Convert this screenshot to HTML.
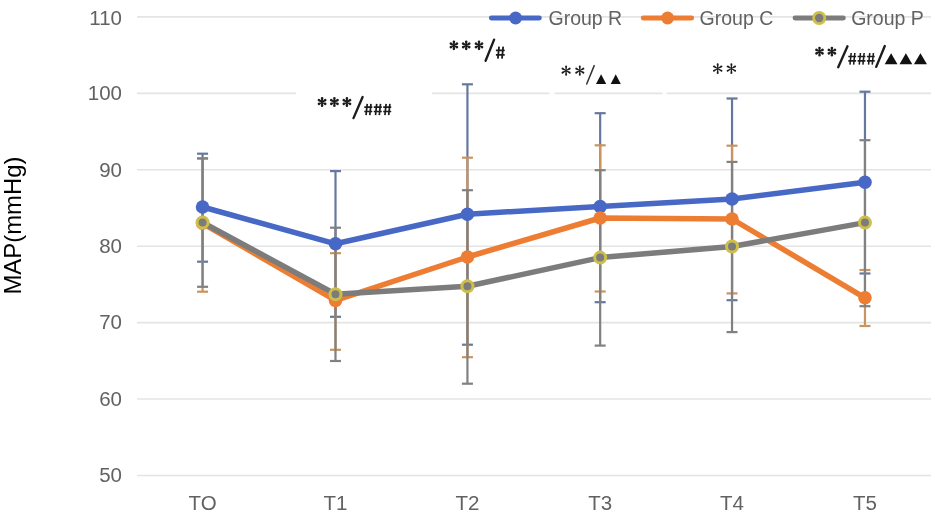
<!DOCTYPE html>
<html><head><meta charset="utf-8"><style>
html,body{margin:0;padding:0;background:#fff;}
body{width:935px;height:517px;overflow:hidden;}
svg{display:block;filter:blur(0.4px);}
.ax{font-family:"Liberation Sans",sans-serif;font-size:20.5px;fill:#626262;}
.leg{font-family:"Liberation Sans",sans-serif;font-size:19.5px;fill:#626262;}
.ttl{font-family:"Liberation Sans",sans-serif;font-size:23.9px;fill:#000;}
</style></head><body>
<svg width="935" height="517" viewBox="0 0 935 517">
<line x1="137" y1="16.90" x2="931" y2="16.90" stroke="#e4e4e4" stroke-width="1.6"/>
<line x1="137" y1="93.33" x2="931" y2="93.33" stroke="#e4e4e4" stroke-width="1.6"/>
<line x1="137" y1="169.76" x2="931" y2="169.76" stroke="#e4e4e4" stroke-width="1.6"/>
<line x1="137" y1="246.19" x2="931" y2="246.19" stroke="#e4e4e4" stroke-width="1.6"/>
<line x1="137" y1="322.62" x2="931" y2="322.62" stroke="#e4e4e4" stroke-width="1.6"/>
<line x1="137" y1="399.05" x2="931" y2="399.05" stroke="#e4e4e4" stroke-width="1.6"/>
<line x1="137" y1="475.48" x2="931" y2="475.48" stroke="#e4e4e4" stroke-width="1.6"/>
<rect x="296" y="88" width="136" height="34" fill="#fff"/>
<rect x="549.5" y="90" width="5" height="8" fill="#fff"/>
<rect x="662.5" y="90" width="4" height="8" fill="#fff"/>
<line x1="202.57" y1="153.70" x2="202.57" y2="261.70" stroke="#66789e" stroke-width="2.2"/>
<line x1="197.07" y1="153.70" x2="208.07" y2="153.70" stroke="#66789e" stroke-width="2.2"/>
<line x1="197.07" y1="261.70" x2="208.07" y2="261.70" stroke="#66789e" stroke-width="2.2"/>
<line x1="335.50" y1="171.10" x2="335.50" y2="316.80" stroke="#66789e" stroke-width="2.2"/>
<line x1="330.00" y1="171.10" x2="341.00" y2="171.10" stroke="#66789e" stroke-width="2.2"/>
<line x1="330.00" y1="316.80" x2="341.00" y2="316.80" stroke="#66789e" stroke-width="2.2"/>
<line x1="467.43" y1="84.30" x2="467.43" y2="344.70" stroke="#66789e" stroke-width="2.2"/>
<line x1="461.93" y1="84.30" x2="472.93" y2="84.30" stroke="#66789e" stroke-width="2.2"/>
<line x1="461.93" y1="344.70" x2="472.93" y2="344.70" stroke="#66789e" stroke-width="2.2"/>
<line x1="600.17" y1="113.20" x2="600.17" y2="302.20" stroke="#66789e" stroke-width="2.2"/>
<line x1="594.67" y1="113.20" x2="605.67" y2="113.20" stroke="#66789e" stroke-width="2.2"/>
<line x1="594.67" y1="302.20" x2="605.67" y2="302.20" stroke="#66789e" stroke-width="2.2"/>
<line x1="732.03" y1="98.50" x2="732.03" y2="300.20" stroke="#66789e" stroke-width="2.2"/>
<line x1="726.53" y1="98.50" x2="737.53" y2="98.50" stroke="#66789e" stroke-width="2.2"/>
<line x1="726.53" y1="300.20" x2="737.53" y2="300.20" stroke="#66789e" stroke-width="2.2"/>
<line x1="864.97" y1="91.70" x2="864.97" y2="273.50" stroke="#66789e" stroke-width="2.2"/>
<line x1="859.47" y1="91.70" x2="870.47" y2="91.70" stroke="#66789e" stroke-width="2.2"/>
<line x1="859.47" y1="273.50" x2="870.47" y2="273.50" stroke="#66789e" stroke-width="2.2"/>
<line x1="202.57" y1="158.60" x2="202.57" y2="291.70" stroke="#c9945f" stroke-width="2.2"/>
<line x1="197.07" y1="158.60" x2="208.07" y2="158.60" stroke="#c9945f" stroke-width="2.2"/>
<line x1="197.07" y1="291.70" x2="208.07" y2="291.70" stroke="#c9945f" stroke-width="2.2"/>
<line x1="335.50" y1="253.20" x2="335.50" y2="349.80" stroke="#c9945f" stroke-width="2.2"/>
<line x1="330.00" y1="253.20" x2="341.00" y2="253.20" stroke="#c9945f" stroke-width="2.2"/>
<line x1="330.00" y1="349.80" x2="341.00" y2="349.80" stroke="#c9945f" stroke-width="2.2"/>
<line x1="467.43" y1="157.70" x2="467.43" y2="357.20" stroke="#c9945f" stroke-width="2.2"/>
<line x1="461.93" y1="157.70" x2="472.93" y2="157.70" stroke="#c9945f" stroke-width="2.2"/>
<line x1="461.93" y1="357.20" x2="472.93" y2="357.20" stroke="#c9945f" stroke-width="2.2"/>
<line x1="600.17" y1="145.30" x2="600.17" y2="291.50" stroke="#c9945f" stroke-width="2.2"/>
<line x1="594.67" y1="145.30" x2="605.67" y2="145.30" stroke="#c9945f" stroke-width="2.2"/>
<line x1="594.67" y1="291.50" x2="605.67" y2="291.50" stroke="#c9945f" stroke-width="2.2"/>
<line x1="732.03" y1="145.70" x2="732.03" y2="293.40" stroke="#c9945f" stroke-width="2.2"/>
<line x1="726.53" y1="145.70" x2="737.53" y2="145.70" stroke="#c9945f" stroke-width="2.2"/>
<line x1="726.53" y1="293.40" x2="737.53" y2="293.40" stroke="#c9945f" stroke-width="2.2"/>
<line x1="864.97" y1="270.00" x2="864.97" y2="326.00" stroke="#c9945f" stroke-width="2.2"/>
<line x1="859.47" y1="270.00" x2="870.47" y2="270.00" stroke="#c9945f" stroke-width="2.2"/>
<line x1="859.47" y1="326.00" x2="870.47" y2="326.00" stroke="#c9945f" stroke-width="2.2"/>
<line x1="202.57" y1="158.30" x2="202.57" y2="286.80" stroke="#818181" stroke-width="2.2"/>
<line x1="197.07" y1="158.30" x2="208.07" y2="158.30" stroke="#818181" stroke-width="2.2"/>
<line x1="197.07" y1="286.80" x2="208.07" y2="286.80" stroke="#818181" stroke-width="2.2"/>
<line x1="335.50" y1="227.70" x2="335.50" y2="361.00" stroke="#818181" stroke-width="2.2"/>
<line x1="330.00" y1="227.70" x2="341.00" y2="227.70" stroke="#818181" stroke-width="2.2"/>
<line x1="330.00" y1="361.00" x2="341.00" y2="361.00" stroke="#818181" stroke-width="2.2"/>
<line x1="467.43" y1="190.20" x2="467.43" y2="383.70" stroke="#818181" stroke-width="2.2"/>
<line x1="461.93" y1="190.20" x2="472.93" y2="190.20" stroke="#818181" stroke-width="2.2"/>
<line x1="461.93" y1="383.70" x2="472.93" y2="383.70" stroke="#818181" stroke-width="2.2"/>
<line x1="600.17" y1="170.20" x2="600.17" y2="345.60" stroke="#818181" stroke-width="2.2"/>
<line x1="594.67" y1="170.20" x2="605.67" y2="170.20" stroke="#818181" stroke-width="2.2"/>
<line x1="594.67" y1="345.60" x2="605.67" y2="345.60" stroke="#818181" stroke-width="2.2"/>
<line x1="732.03" y1="161.90" x2="732.03" y2="332.10" stroke="#818181" stroke-width="2.2"/>
<line x1="726.53" y1="161.90" x2="737.53" y2="161.90" stroke="#818181" stroke-width="2.2"/>
<line x1="726.53" y1="332.10" x2="737.53" y2="332.10" stroke="#818181" stroke-width="2.2"/>
<line x1="864.97" y1="140.20" x2="864.97" y2="306.20" stroke="#818181" stroke-width="2.2"/>
<line x1="859.47" y1="140.20" x2="870.47" y2="140.20" stroke="#818181" stroke-width="2.2"/>
<line x1="859.47" y1="306.20" x2="870.47" y2="306.20" stroke="#818181" stroke-width="2.2"/>
<polyline points="202.57,207.00 335.50,243.80 467.43,214.20 600.17,206.50 732.03,199.00 864.97,182.30" fill="none" stroke="#4868c6" stroke-width="5.5" stroke-linejoin="round" stroke-linecap="round"/>
<circle cx="202.57" cy="207.00" r="6.8" fill="#4868c6" stroke="none" stroke-width="0"/>
<circle cx="335.50" cy="243.80" r="6.8" fill="#4868c6" stroke="none" stroke-width="0"/>
<circle cx="467.43" cy="214.20" r="6.8" fill="#4868c6" stroke="none" stroke-width="0"/>
<circle cx="600.17" cy="206.50" r="6.8" fill="#4868c6" stroke="none" stroke-width="0"/>
<circle cx="732.03" cy="199.00" r="6.8" fill="#4868c6" stroke="none" stroke-width="0"/>
<circle cx="864.97" cy="182.30" r="6.8" fill="#4868c6" stroke="none" stroke-width="0"/>
<polyline points="202.57,223.30 335.50,300.40 467.43,257.00 600.17,218.00 732.03,219.00 864.97,297.80" fill="none" stroke="#ec7d32" stroke-width="5.5" stroke-linejoin="round" stroke-linecap="round"/>
<circle cx="202.57" cy="223.30" r="6.8" fill="#ec7d32" stroke="none" stroke-width="0"/>
<circle cx="335.50" cy="300.40" r="6.8" fill="#ec7d32" stroke="none" stroke-width="0"/>
<circle cx="467.43" cy="257.00" r="6.8" fill="#ec7d32" stroke="none" stroke-width="0"/>
<circle cx="600.17" cy="218.00" r="6.8" fill="#ec7d32" stroke="none" stroke-width="0"/>
<circle cx="732.03" cy="219.00" r="6.8" fill="#ec7d32" stroke="none" stroke-width="0"/>
<circle cx="864.97" cy="297.80" r="6.8" fill="#ec7d32" stroke="none" stroke-width="0"/>
<polyline points="202.57,222.50 335.50,294.20 467.43,286.30 600.17,257.60 732.03,246.50 864.97,222.60" fill="none" stroke="#7c7c7c" stroke-width="5.5" stroke-linejoin="round" stroke-linecap="round"/>
<circle cx="202.57" cy="222.50" r="5.5" fill="#7c7c7c" stroke="#cdbf4a" stroke-width="3.0"/>
<circle cx="335.50" cy="294.20" r="5.5" fill="#7c7c7c" stroke="#cdbf4a" stroke-width="3.0"/>
<circle cx="467.43" cy="286.30" r="5.5" fill="#7c7c7c" stroke="#cdbf4a" stroke-width="3.0"/>
<circle cx="600.17" cy="257.60" r="5.5" fill="#7c7c7c" stroke="#cdbf4a" stroke-width="3.0"/>
<circle cx="732.03" cy="246.50" r="5.5" fill="#7c7c7c" stroke="#cdbf4a" stroke-width="3.0"/>
<circle cx="864.97" cy="222.60" r="5.5" fill="#7c7c7c" stroke="#cdbf4a" stroke-width="3.0"/>
<line x1="491.3" y1="18.0" x2="539.4" y2="18.0" stroke="#4868c6" stroke-width="4.8" stroke-linecap="round"/>
<circle cx="515.6" cy="18.0" r="6.5" fill="#4868c6" stroke="none" stroke-width="0"/>
<text x="548.5" y="25.1" class="leg">Group R</text>
<line x1="643.2" y1="18.0" x2="691.7" y2="18.0" stroke="#ec7d32" stroke-width="4.8" stroke-linecap="round"/>
<circle cx="667.6" cy="18.0" r="6.5" fill="#ec7d32" stroke="none" stroke-width="0"/>
<text x="699.6" y="25.1" class="leg">Group C</text>
<line x1="795.0" y1="18.0" x2="843.4" y2="18.0" stroke="#7c7c7c" stroke-width="4.8" stroke-linecap="round"/>
<circle cx="819.2" cy="18.0" r="5.6" fill="#7c7c7c" stroke="#cdbf4a" stroke-width="2.8"/>
<text x="851.2" y="25.1" class="leg">Group P</text>
<text x="122" y="24.65" class="ax" text-anchor="end">110</text>
<text x="122" y="99.68" class="ax" text-anchor="end">100</text>
<text x="122" y="176.61" class="ax" text-anchor="end">90</text>
<text x="122" y="252.99" class="ax" text-anchor="end">80</text>
<text x="122" y="329.17" class="ax" text-anchor="end">70</text>
<text x="122" y="406.30" class="ax" text-anchor="end">60</text>
<text x="122" y="481.53" class="ax" text-anchor="end">50</text>
<text x="202.57" y="510" class="ax" text-anchor="middle">TO</text>
<text x="335.50" y="510" class="ax" text-anchor="middle">T1</text>
<text x="467.43" y="510" class="ax" text-anchor="middle">T2</text>
<text x="600.17" y="510" class="ax" text-anchor="middle">T3</text>
<text x="732.03" y="510" class="ax" text-anchor="middle">T4</text>
<text x="864.97" y="510" class="ax" text-anchor="middle">T5</text>
<text transform="translate(21,294.6) rotate(-90)" class="ttl">MAP(mmHg)</text>
<path d="M322.56,102.00L323.40,98.36A1.30,1.30 0 0 0 320.80,98.36L321.64,102.00ZM322.33,102.40L325.91,101.31A1.30,1.30 0 0 0 324.61,99.05L321.87,101.60ZM321.87,102.40L324.61,104.95A1.30,1.30 0 0 0 325.91,102.69L322.33,101.60ZM321.64,102.00L320.80,105.64A1.30,1.30 0 0 0 323.40,105.64L322.56,102.00ZM321.87,101.60L318.29,102.69A1.30,1.30 0 0 0 319.59,104.95L322.33,102.40ZM322.33,101.60L319.59,99.05A1.30,1.30 0 0 0 318.29,101.31L321.87,102.40Z" fill="#1c1c1c"/><circle cx="322.10" cy="102.00" r="0.95" fill="#1c1c1c"/>
<path d="M334.86,102.00L335.70,98.36A1.30,1.30 0 0 0 333.10,98.36L333.94,102.00ZM334.63,102.40L338.21,101.31A1.30,1.30 0 0 0 336.91,99.05L334.17,101.60ZM334.17,102.40L336.91,104.95A1.30,1.30 0 0 0 338.21,102.69L334.63,101.60ZM333.94,102.00L333.10,105.64A1.30,1.30 0 0 0 335.70,105.64L334.86,102.00ZM334.17,101.60L330.59,102.69A1.30,1.30 0 0 0 331.89,104.95L334.63,102.40ZM334.63,101.60L331.89,99.05A1.30,1.30 0 0 0 330.59,101.31L334.17,102.40Z" fill="#1c1c1c"/><circle cx="334.40" cy="102.00" r="0.95" fill="#1c1c1c"/>
<path d="M347.36,102.00L348.20,98.36A1.30,1.30 0 0 0 345.60,98.36L346.44,102.00ZM347.13,102.40L350.71,101.31A1.30,1.30 0 0 0 349.41,99.05L346.67,101.60ZM346.67,102.40L349.41,104.95A1.30,1.30 0 0 0 350.71,102.69L347.13,101.60ZM346.44,102.00L345.60,105.64A1.30,1.30 0 0 0 348.20,105.64L347.36,102.00ZM346.67,101.60L343.09,102.69A1.30,1.30 0 0 0 344.39,104.95L347.13,102.40ZM347.13,101.60L344.39,99.05A1.30,1.30 0 0 0 343.09,101.31L346.67,102.40Z" fill="#1c1c1c"/><circle cx="346.90" cy="102.00" r="0.95" fill="#1c1c1c"/>
<line x1="353.50" y1="118.10" x2="362.60" y2="97.00" stroke="#1c1c1c" stroke-width="2.35" stroke-linecap="round"/>
<path d="M367.22,103.80L366.02,115.10M370.98,103.80L369.78,115.10M364.30,107.19L372.30,107.19M364.30,111.48L372.30,111.48" stroke="#1c1c1c" stroke-width="1.7" fill="none"/>
<path d="M376.72,103.80L375.52,115.10M380.48,103.80L379.28,115.10M373.80,107.19L381.80,107.19M373.80,111.48L381.80,111.48" stroke="#1c1c1c" stroke-width="1.7" fill="none"/>
<path d="M386.12,103.80L384.92,115.10M389.88,103.80L388.68,115.10M383.20,107.19L391.20,107.19M383.20,111.48L391.20,111.48" stroke="#1c1c1c" stroke-width="1.7" fill="none"/>
<path d="M454.36,45.30L455.20,41.75A1.30,1.30 0 0 0 452.60,41.75L453.44,45.30ZM454.13,45.70L457.62,44.66A1.30,1.30 0 0 0 456.32,42.40L453.67,44.90ZM453.67,45.70L456.32,48.20A1.30,1.30 0 0 0 457.62,45.94L454.13,44.90ZM453.44,45.30L452.60,48.84A1.30,1.30 0 0 0 455.20,48.84L454.36,45.30ZM453.67,44.90L450.18,45.94A1.30,1.30 0 0 0 451.48,48.20L454.13,45.70ZM454.13,44.90L451.48,42.40A1.30,1.30 0 0 0 450.18,44.66L453.67,45.70Z" fill="#1c1c1c"/><circle cx="453.90" cy="45.30" r="0.95" fill="#1c1c1c"/>
<path d="M466.66,45.30L467.50,41.75A1.30,1.30 0 0 0 464.90,41.75L465.74,45.30ZM466.43,45.70L469.92,44.66A1.30,1.30 0 0 0 468.62,42.40L465.97,44.90ZM465.97,45.70L468.62,48.20A1.30,1.30 0 0 0 469.92,45.94L466.43,44.90ZM465.74,45.30L464.90,48.84A1.30,1.30 0 0 0 467.50,48.84L466.66,45.30ZM465.97,44.90L462.48,45.94A1.30,1.30 0 0 0 463.78,48.20L466.43,45.70ZM466.43,44.90L463.78,42.40A1.30,1.30 0 0 0 462.48,44.66L465.97,45.70Z" fill="#1c1c1c"/><circle cx="466.20" cy="45.30" r="0.95" fill="#1c1c1c"/>
<path d="M479.46,45.30L480.30,41.75A1.30,1.30 0 0 0 477.70,41.75L478.54,45.30ZM479.23,45.70L482.72,44.66A1.30,1.30 0 0 0 481.42,42.40L478.77,44.90ZM478.77,45.70L481.42,48.20A1.30,1.30 0 0 0 482.72,45.94L479.23,44.90ZM478.54,45.30L477.70,48.84A1.30,1.30 0 0 0 480.30,48.84L479.46,45.30ZM478.77,44.90L475.28,45.94A1.30,1.30 0 0 0 476.58,48.20L479.23,45.70ZM479.23,44.90L476.58,42.40A1.30,1.30 0 0 0 475.28,44.66L478.77,45.70Z" fill="#1c1c1c"/><circle cx="479.00" cy="45.30" r="0.95" fill="#1c1c1c"/>
<line x1="485.60" y1="60.80" x2="494.10" y2="39.60" stroke="#1c1c1c" stroke-width="2.35" stroke-linecap="round"/>
<path d="M499.05,46.70L497.85,58.70M503.19,46.70L501.99,58.70M495.90,50.30L504.70,50.30M495.90,54.86L504.70,54.86" stroke="#1c1c1c" stroke-width="1.8" fill="none"/>
<path d="M566.45,70.60L567.09,66.48A0.99,0.99 0 0 0 565.11,66.48L565.75,70.60ZM566.28,70.90L570.16,69.40A0.99,0.99 0 0 0 569.17,67.68L565.92,70.30ZM565.92,70.90L569.17,73.52A0.99,0.99 0 0 0 570.16,71.80L566.28,70.30ZM565.75,70.60L565.11,74.72A0.99,0.99 0 0 0 567.09,74.72L566.45,70.60ZM565.92,70.30L562.04,71.80A0.99,0.99 0 0 0 563.03,73.52L566.28,70.90ZM566.28,70.30L563.03,67.68A0.99,0.99 0 0 0 562.04,69.40L565.92,70.90Z" fill="#1c1c1c"/><circle cx="566.10" cy="70.60" r="0.72" fill="#1c1c1c"/>
<path d="M580.15,70.60L580.79,66.48A0.99,0.99 0 0 0 578.81,66.48L579.45,70.60ZM579.98,70.90L583.86,69.40A0.99,0.99 0 0 0 582.87,67.68L579.62,70.30ZM579.62,70.90L582.87,73.52A0.99,0.99 0 0 0 583.86,71.80L579.98,70.30ZM579.45,70.60L578.81,74.72A0.99,0.99 0 0 0 580.79,74.72L580.15,70.60ZM579.62,70.30L575.74,71.80A0.99,0.99 0 0 0 576.73,73.52L579.98,70.90ZM579.98,70.30L576.73,67.68A0.99,0.99 0 0 0 575.74,69.40L579.62,70.90Z" fill="#1c1c1c"/><circle cx="579.80" cy="70.60" r="0.72" fill="#1c1c1c"/>
<line x1="586.70" y1="84.00" x2="594.20" y2="65.60" stroke="#333" stroke-width="1.5" stroke-linecap="round"/>
<path d="M596.00,84.00 L601.10,74.20 L606.20,84.00 Z" fill="#111"/>
<path d="M610.70,84.00 L615.75,74.20 L620.80,84.00 Z" fill="#111"/>
<path d="M718.05,68.60L718.69,64.28A0.99,0.99 0 0 0 716.71,64.28L717.35,68.60ZM717.88,68.90L721.94,67.30A0.99,0.99 0 0 0 720.95,65.58L717.52,68.30ZM717.52,68.90L720.95,71.62A0.99,0.99 0 0 0 721.94,69.90L717.88,68.30ZM717.35,68.60L716.71,72.92A0.99,0.99 0 0 0 718.69,72.92L718.05,68.60ZM717.52,68.30L713.46,69.90A0.99,0.99 0 0 0 714.45,71.62L717.88,68.90ZM717.88,68.30L714.45,65.58A0.99,0.99 0 0 0 713.46,67.30L717.52,68.90Z" fill="#1c1c1c"/><circle cx="717.70" cy="68.60" r="0.72" fill="#1c1c1c"/>
<path d="M731.75,68.60L732.39,64.28A0.99,0.99 0 0 0 730.41,64.28L731.05,68.60ZM731.58,68.90L735.64,67.30A0.99,0.99 0 0 0 734.65,65.58L731.22,68.30ZM731.22,68.90L734.65,71.62A0.99,0.99 0 0 0 735.64,69.90L731.58,68.30ZM731.05,68.60L730.41,72.92A0.99,0.99 0 0 0 732.39,72.92L731.75,68.60ZM731.22,68.30L727.16,69.90A0.99,0.99 0 0 0 728.15,71.62L731.58,68.90ZM731.58,68.30L728.15,65.58A0.99,0.99 0 0 0 727.16,67.30L731.22,68.90Z" fill="#1c1c1c"/><circle cx="731.40" cy="68.60" r="0.72" fill="#1c1c1c"/>
<path d="M819.96,51.60L820.80,48.05A1.30,1.30 0 0 0 818.20,48.05L819.04,51.60ZM819.73,52.00L823.22,50.96A1.30,1.30 0 0 0 821.92,48.70L819.27,51.20ZM819.27,52.00L821.92,54.50A1.30,1.30 0 0 0 823.22,52.24L819.73,51.20ZM819.04,51.60L818.20,55.15A1.30,1.30 0 0 0 820.80,55.15L819.96,51.60ZM819.27,51.20L815.78,52.24A1.30,1.30 0 0 0 817.08,54.50L819.73,52.00ZM819.73,51.20L817.08,48.70A1.30,1.30 0 0 0 815.78,50.96L819.27,52.00Z" fill="#1c1c1c"/><circle cx="819.50" cy="51.60" r="0.95" fill="#1c1c1c"/>
<path d="M832.36,51.60L833.20,48.05A1.30,1.30 0 0 0 830.60,48.05L831.44,51.60ZM832.13,52.00L835.62,50.96A1.30,1.30 0 0 0 834.32,48.70L831.67,51.20ZM831.67,52.00L834.32,54.50A1.30,1.30 0 0 0 835.62,52.24L832.13,51.20ZM831.44,51.60L830.60,55.15A1.30,1.30 0 0 0 833.20,55.15L832.36,51.60ZM831.67,51.20L828.18,52.24A1.30,1.30 0 0 0 829.48,54.50L832.13,52.00ZM832.13,51.20L829.48,48.70A1.30,1.30 0 0 0 828.18,50.96L831.67,52.00Z" fill="#1c1c1c"/><circle cx="831.90" cy="51.60" r="0.95" fill="#1c1c1c"/>
<line x1="838.20" y1="67.20" x2="847.50" y2="46.30" stroke="#1c1c1c" stroke-width="2.35" stroke-linecap="round"/>
<path d="M851.16,53.00L849.96,64.60M854.83,53.00L853.63,64.60M848.30,56.48L856.10,56.48M848.30,60.89L856.10,60.89" stroke="#1c1c1c" stroke-width="1.55" fill="none"/>
<path d="M860.46,53.00L859.26,64.60M864.13,53.00L862.93,64.60M857.60,56.48L865.40,56.48M857.60,60.89L865.40,60.89" stroke="#1c1c1c" stroke-width="1.55" fill="none"/>
<path d="M869.76,53.00L868.56,64.60M873.43,53.00L872.23,64.60M866.90,56.48L874.70,56.48M866.90,60.89L874.70,60.89" stroke="#1c1c1c" stroke-width="1.55" fill="none"/>
<line x1="876.20" y1="66.90" x2="884.80" y2="46.00" stroke="#1c1c1c" stroke-width="2.35" stroke-linecap="round"/>
<path d="M884.70,64.30 L891.10,53.20 L897.50,64.30 Z" fill="#111"/>
<path d="M899.50,64.30 L905.90,53.20 L912.30,64.30 Z" fill="#111"/>
<path d="M913.90,64.30 L920.45,53.20 L927.00,64.30 Z" fill="#111"/>
</svg>
</body></html>
